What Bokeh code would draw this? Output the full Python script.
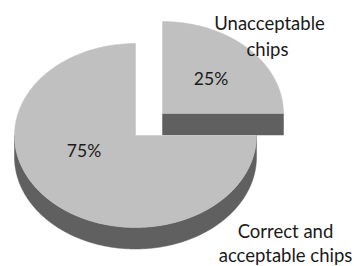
import numpy as np
from bokeh.plotting import figure
from bokeh.models import Range1d
from bokeh.core.properties import value
from bokeh.embed import file_html
from bokeh.resources import INLINE

# ---- data ----
categories = ["Unacceptable chips", "Correct and acceptable chips"]
label_lines = [["Unacceptable", "chips"], ["Correct and", "acceptable chips"]]
shares = [25, 75]

# ---- style / layout ----
TOP = "#c0c0c0"
SIDE = "#606060"
FONT = "Lato"
W, H = 354, 266

p = figure(width=W, height=H, output_backend="svg", toolbar_location=None,
           x_range=Range1d(0, W), y_range=Range1d(H, 0),
           min_border=0)
p.axis.visible = False
p.grid.visible = False
p.outline_line_color = None
p.background_fill_color = "white"
p.border_fill_color = "white"

cx, cy = 135.0, 135.0   # pie centre (screen px)
rx, ry = 121.0, 92.0     # ellipse radii
depth = 21.5
explode = [(27.0, -22.0), (0.0, 0.0)]


def pt(c, a):
    return c[0] + rx * np.cos(a), c[1] - ry * np.sin(a)


total = float(sum(shares))
start = np.pi / 2
slices = []
for v, off in zip(shares, explode):
    end = start - 2 * np.pi * v / total
    slices.append((start, end, (cx + off[0], cy + off[1])))
    start = end

for a0, a1, c in slices:
    sx, sy = [], []
    # radial cut faces that face the viewer
    for a in (a0, a1):
        ex, ey = pt(c, a)
        n = a + np.pi / 2 if a == a0 else a - np.pi / 2
        if np.sin(n) < -1e-6:
            sx.append([c[0], ex, ex, c[0]])
            sy.append([c[1], ey, ey + depth, c[1] + depth])
    # curved front wall (where sin < 0)
    lo, hi = min(a0, a1), max(a0, a1)
    for k in range(-2, 2):
        s0, s1 = np.pi + 2 * np.pi * k, 2 * np.pi + 2 * np.pi * k
        a, b = max(lo, s0), min(hi, s1)
        if b > a:
            aa = np.linspace(a, b, 200)
            ux = list(c[0] + rx * np.cos(aa))
            uy = list(c[1] - ry * np.sin(aa))
            sx.append(ux + ux[::-1])
            sy.append(uy + [y + depth for y in uy[::-1]])
    if sx:
        p.patches(sx, sy, fill_color=SIDE, line_color=SIDE, line_width=0.5)
    angs = np.linspace(a0, a1, 200)
    tx = [c[0]] + list(c[0] + rx * np.cos(angs))
    ty = [c[1]] + list(c[1] - ry * np.sin(angs))
    p.patch(tx, ty, fill_color=TOP, line_color=TOP, line_width=0.5)

# percentage labels
pct_pos = [(210.5, 78.0), (83.5, 150.0)]
p.text(x=[q[0] for q in pct_pos], y=[q[1] for q in pct_pos],
       text=[f"{v}%" for v in shares], text_font=value(FONT),
       text_font_size="17.5px", text_align="center", text_baseline="alphabetic",
       text_color="#1a1a1a")

# category labels
cat_pos = [[(269.0, 22.0), (267.0, 48.3)], [(285.0, 230.0), (285.0, 254.5)]]
lx, ly, lt = [], [], []
for lines, poss in zip(label_lines, cat_pos):
    for t, (x, y) in zip(lines, poss):
        lx.append(x)
        ly.append(y)
        lt.append(t)
p.text(x=lx, y=ly, text=lt, text_font=value(FONT), text_font_size="18.5px",
       text_align="center", text_baseline="alphabetic", text_color="#1a1a1a")

open("out.html", "w").write(file_html(p, INLINE))
